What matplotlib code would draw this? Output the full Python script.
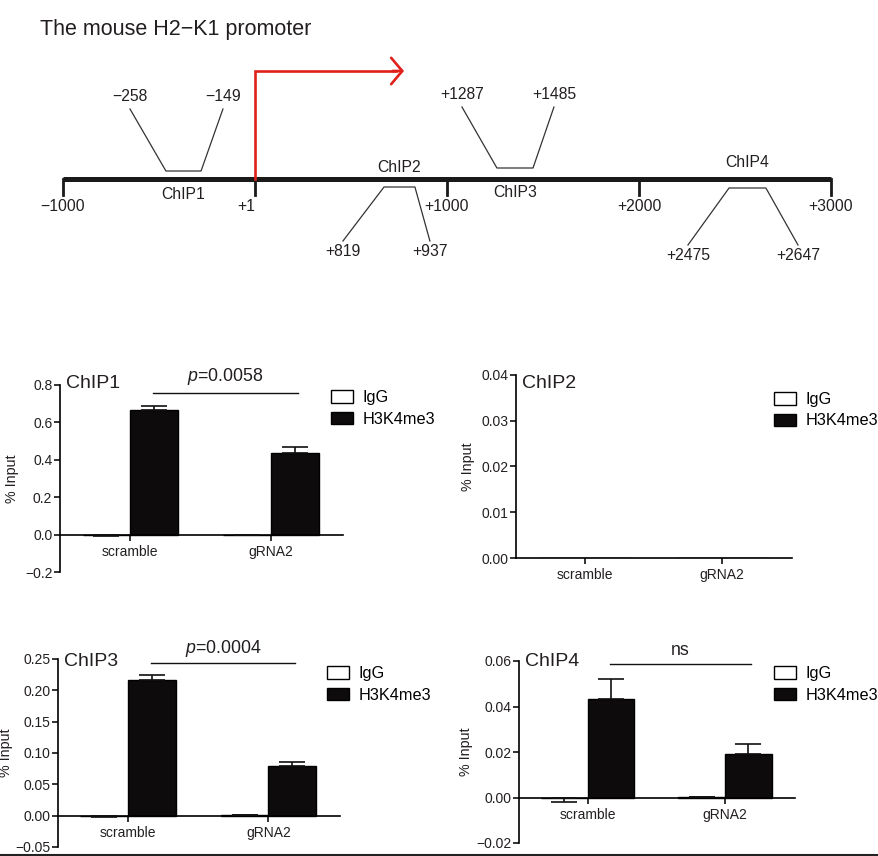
#!/usr/bin/env python3
"""
H2-K1 promoter schematic with ChIP-qPCR bar charts (IgG vs H3K4me3).
"""

import numpy as np
import matplotlib
matplotlib.use('Agg')
import matplotlib.pyplot as plt
from matplotlib.lines import Line2D
from matplotlib.ticker import FuncFormatter

plt.rcParams['font.family'] = ['Liberation Sans', 'DejaVu Sans']
plt.rcParams['mathtext.fontset'] = 'custom'
plt.rcParams['mathtext.rm'] = 'Liberation Sans'
plt.rcParams['mathtext.it'] = 'Liberation Sans:italic'

TXT = '#231f20'
RED = '#e0201b'

# ---- promoter schematic (bp) ----
axis_ticks = [-1000, 1, 1000, 2000, 3000]
axis_tick_labels = ['\u22121000', '+1', '+1000', '+2000', '+3000']
axis_label_shift = [0, -45, 0, 0, 0]   # bp, "+1" sits a bit left of its tick

region_names = ['ChIP1', 'ChIP2', 'ChIP3', 'ChIP4']
region_start_labels = ['\u2212258', '+819', '+1287', '+2475']
region_end_labels = ['\u2212149', '+937', '+1485', '+2647']
# bracket geometry (bp along the line, px above/below it)
bracket_outer = [(-651, -167), (458, 911), (1078, 1557), (2255, 2828)]
bracket_inner = [(-464, -281), (672, 833), (1260, 1448), (2469, 2661)]
bracket_outer_h = [70, -62, 72, -66]
bracket_inner_h = [8, -8, 11, -9]
region_name_h = [-16, 11, -14, 16]
tss_arrow_end = 776

# ---- ChIP-qPCR (% input) ----
categories = ['scramble', 'gRNA2']
series_names = ['IgG', 'H3K4me3']

chip1_igg = [-0.002, -0.002]
chip1_igg_err = [0.003, 0.002]
chip1_h3 = [0.665, 0.437]
chip1_h3_err = [0.022, 0.031]

chip2_igg = [0.0, 0.0]
chip2_igg_err = [0.0, 0.0]
chip2_h3 = [0.0, 0.0]
chip2_h3_err = [0.0, 0.0]

chip3_igg = [-0.001, 0.0003]
chip3_igg_err = [0.0008, 0.0003]
chip3_h3 = [0.216, 0.080]
chip3_h3_err = [0.009, 0.006]

chip4_igg = [-0.0003, 0.0002]
chip4_igg_err = [0.0015, 0.0002]
chip4_h3 = [0.0431, 0.0193]
chip4_h3_err = [0.0088, 0.0044]

W, H = 879, 856
fig = plt.figure(figsize=(W / 100, H / 100), dpi=100)


def fx(x):
    return x / W


def fy(y):
    return 1 - y / H


def px_axes(left, top, right, bottom):
    return fig.add_axes([fx(left), fy(bottom), (right - left) / W, (bottom - top) / H])


# ------------------------------------------------------------ schematic
fig.text(fx(40), fy(30), 'The mouse H2\u2212K1 promoter', fontsize=15.5,
         color=TXT, ha='left', va='center')

ax0 = px_axes(63, 40, 831, 280)
ax0.set_xlim(-1000, 3000)
ax0.set_ylim(179 - 280, 179 - 40)
ax0.axis('off')

ax0.plot([axis_ticks[0], axis_ticks[-1]], [0, 0], color='#1a1a1a', lw=3.6,
         solid_capstyle='butt', clip_on=False)
for pos, lab, sh in zip(axis_ticks, axis_tick_labels, axis_label_shift):
    ax0.plot([pos, pos], [0, -16], color='#1a1a1a', lw=2.0, clip_on=False)
    ax0.text(pos + sh, -28, lab, fontsize=11.3, color=TXT, ha='center', va='center')

for i, name in enumerate(region_names):
    (o0, o1), (i0, i1) = bracket_outer[i], bracket_inner[i]
    oh, ih = bracket_outer_h[i], bracket_inner_h[i]
    ax0.plot([o0, i0, i1, o1], [oh, ih, ih, oh], color='#333333', lw=0.9,
             clip_on=False)
    lab_h = oh + (12 if oh > 0 else -11)
    ax0.text(o0, lab_h, region_start_labels[i], fontsize=11.3, color=TXT,
             ha='center', va='center')
    ax0.text(o1, lab_h, region_end_labels[i], fontsize=11.3, color=TXT,
             ha='center', va='center')
    ax0.text((i0 + i1) / 2, region_name_h[i], name, fontsize=11.3,
             color=TXT, ha='center', va='center')

# transcription start arrow
ax0.plot([axis_ticks[1], axis_ticks[1], tss_arrow_end - 40],
         [0, 108, 108], color=RED, lw=1.9, solid_joinstyle='miter', clip_on=False)
ax0.annotate('', xy=(tss_arrow_end, 108), xytext=(tss_arrow_end - 60, 108),
             arrowprops=dict(arrowstyle='->,head_length=0.8,head_width=0.95',
                             color=RED, lw=1.9, shrinkA=0, shrinkB=0,
                             mutation_scale=10))

# ------------------------------------------------------------ bar charts
BAR_W = 0.34
x = np.arange(len(categories))


def signed_err(vals, errs):
    vals = np.asarray(vals)
    errs = np.asarray(errs)
    lower = np.where(vals < 0, errs, 0)
    upper = np.where(vals < 0, 0, errs)
    return [lower, upper]


def bar_panel(box, title, title_y, igg, igg_err, h3, h3_err, ylim, yticks, fmt,
              label_x, legend_xy, sig=None):
    ax = px_axes(*box)
    b1 = ax.bar(x - BAR_W / 2, igg, BAR_W, color='white', edgecolor='black',
                linewidth=1.0, label=series_names[0], zorder=2)
    b2 = ax.bar(x + BAR_W / 2, h3, BAR_W, color='#0d0b0c', edgecolor='black',
                linewidth=1.0, label=series_names[1], zorder=2)
    for xs, v, e in [(x - BAR_W / 2, igg, igg_err), (x + BAR_W / 2, h3, h3_err)]:
        if np.any(np.asarray(e) > 0):
            ax.errorbar(xs, v, yerr=signed_err(v, e), fmt='none', ecolor='#111111',
                        elinewidth=1.2, capsize=9.5, capthick=1.2, zorder=3)

    ax.set_xlim(-0.5, 1.51)
    ax.set_ylim(*ylim)
    ax.set_yticks(yticks)
    ax.yaxis.set_major_formatter(
        FuncFormatter(lambda v, p: (fmt % v).replace('-', '\u2212')))
    ax.set_xticks(x)
    ax.set_xticklabels(categories)
    for sp in ['top', 'right']:
        ax.spines[sp].set_visible(False)
    ax.spines['bottom'].set_position(('data', 0))
    ax.spines['left'].set_linewidth(1.2)
    ax.spines['bottom'].set_linewidth(1.2)
    ax.tick_params(axis='both', direction='out', length=4, width=1.2,
                   labelsize=10, colors='#111111', labelcolor=TXT)
    ax.tick_params(axis='y', pad=1.5)
    ax.tick_params(axis='x', pad=3.5)
    ax.set_ylabel('% Input', fontsize=10.3, color=TXT)
    ax.yaxis.set_label_coords(label_x, 0.5)

    fig.text(fx(box[0] + 6), fy(title_y), title, fontsize=14, color=TXT,
             ha='left', va='center')

    if sig is not None:
        text, y_line, y_text = sig
        ax.plot([0.16, 1.19], [y_line, y_line], color='#111111', lw=1.0,
                clip_on=False)
        ax.text(0.675, y_text, text, fontsize=12.8, color=TXT, ha='center',
                va='center', clip_on=False)

    ax.legend(handles=[b1, b2], loc='upper left', frameon=False,
              bbox_to_anchor=(fx(legend_xy[0]), fy(legend_xy[1])),
              bbox_transform=fig.transFigure, fontsize=11.7, handlelength=1.35,
              handleheight=0.8, handletextpad=0.6, labelspacing=0.4,
              borderpad=0, borderaxespad=0)
    return ax


bar_panel((60, 385, 343, 572), 'ChIP1', 383, chip1_igg, chip1_igg_err, chip1_h3,
          chip1_h3_err, (-0.2, 0.8), [-0.2, 0.0, 0.2, 0.4, 0.6, 0.8], '%.1f',
          -0.145, (331, 390), sig=(r'$p$=0.0058', 0.757, 0.845))
bar_panel((516, 375, 792, 558), 'ChIP2', 383, chip2_igg, chip2_igg_err, chip2_h3,
          chip2_h3_err, (0.0, 0.04), [0.0, 0.01, 0.02, 0.03, 0.04], '%.2f',
          -0.149, (774, 392))
bar_panel((58, 659, 340, 847), 'ChIP3', 662, chip3_igg, chip3_igg_err, chip3_h3,
          chip3_h3_err, (-0.05, 0.25), [-0.05, 0.0, 0.05, 0.10, 0.15, 0.20, 0.25],
          '%.2f', -0.158, (327, 666), sig=(r'$p$=0.0004', 0.243, 0.267))
bar_panel((519, 661, 795, 843), 'ChIP4', 662, chip4_igg, chip4_igg_err, chip4_h3,
          chip4_h3_err, (-0.02, 0.06), [-0.02, 0.0, 0.02, 0.04, 0.06], '%.2f',
          -0.167, (774, 666), sig=('ns', 0.0585, 0.0646))

# bottom border of the panel
fig.add_artist(Line2D([0, 1], [fy(855), fy(855)], transform=fig.transFigure,
                      color='#222222', lw=1.5))

plt.savefig('out.png', dpi=100)
